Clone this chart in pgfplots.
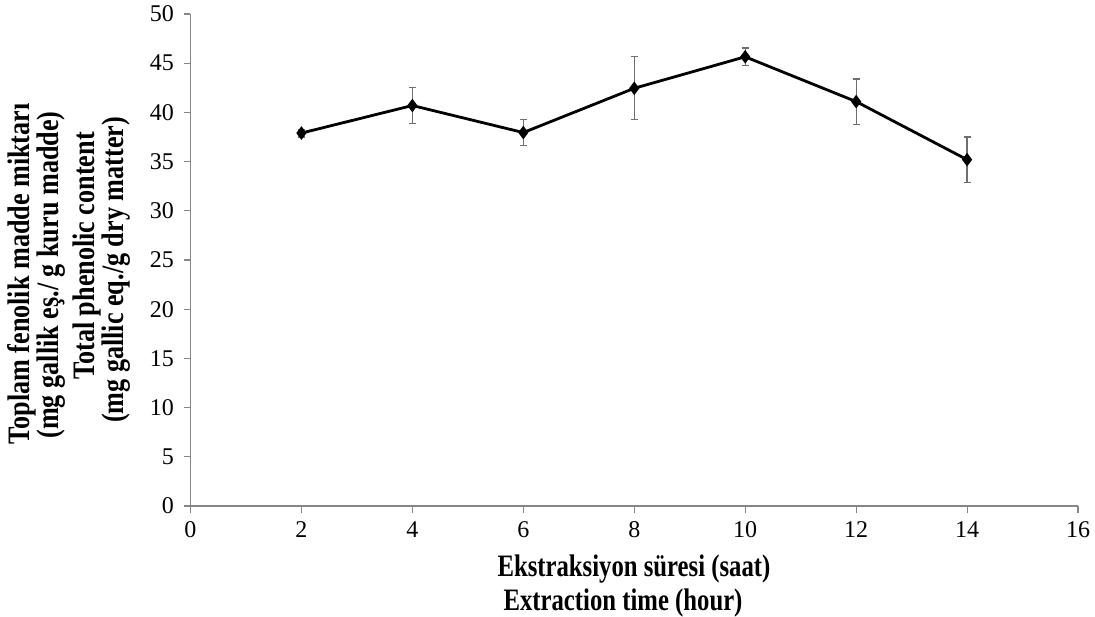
\documentclass[border=0pt]{standalone}
\usepackage{pgfplots}
\pgfplotsset{compat=1.18}
\usepackage{fontspec}
\setmainfont{Liberation Serif}
\definecolor{axgray}{HTML}{868686}
\definecolor{errgray}{HTML}{6E6E6E}
\newcommand{\lbl}[1]{\scalebox{1.03}[1.3]{\fontsize{24}{28}\selectfont\bfseries #1}}
\newcommand{\ylbl}[1]{\scalebox{1.09}[1.3]{\fontsize{24}{28}\selectfont\bfseries #1}}
\begin{document}
\begin{tikzpicture}[x=1pt,y=1pt]
\useasboundingbox (-190.5,-110) rectangle (904.5,506);
\begin{axis}[
  at={(0,0)}, anchor=origin,
  scale only axis, width=887.5pt, height=492pt,
  xmin=0, xmax=16, ymin=0, ymax=50,
  xtick={0,2,...,16}, ytick={0,5,...,50},
  axis x line*=bottom, axis y line*=left,
  axis line style={axgray, line width=1.1pt},
  tick align=outside, major tick length=7pt,
  tick style={axgray, line width=1.1pt},
  minor tick num=0,
  /pgf/number format/assume math mode=true,
  tick label style={font=\fontsize{24}{28}\selectfont, black},
  xticklabel shift=5pt,
  yticklabel shift=6pt,
  clip=false,
]
\addplot[black, line width=2.8pt, mark=diamond*, mark size=4.5pt,
  error bars/.cd, y dir=both, y explicit,
  error bar style={errgray, line width=1.2pt},
  error mark options={errgray, line width=1.2pt, rotate=90, mark size=3.5pt}]
  coordinates {
  (2,37.9) +- (0,0.4)
  (4,40.7) +- (0,1.85)
  (6,37.95) +- (0,1.35)
  (8,42.45) +- (0,3.2)
  (10,45.65) +- (0,0.9)
  (12,41.1) +- (0,2.3)
  (14,35.2) +- (0,2.3)
  };
\end{axis}
\node[rotate=90] at (-168.5,232) {\ylbl{Toplam fenolik madde miktarı}};
\node[rotate=90] at (-139.5,231) {\ylbl{(mg gallik eş./ g kuru madde)}};
\node[rotate=90] at (-103.5,250) {\ylbl{Total phenolic content}};
\node[rotate=90] at (-74.5,236) {\ylbl{(mg gallic eq./g dry matter)}};
\node at (443.5,-63) {\lbl{Ekstraksiyon süresi (saat)}};
\node at (432.5,-97) {\lbl{Extraction time (hour)}};
\end{tikzpicture}
\end{document}
